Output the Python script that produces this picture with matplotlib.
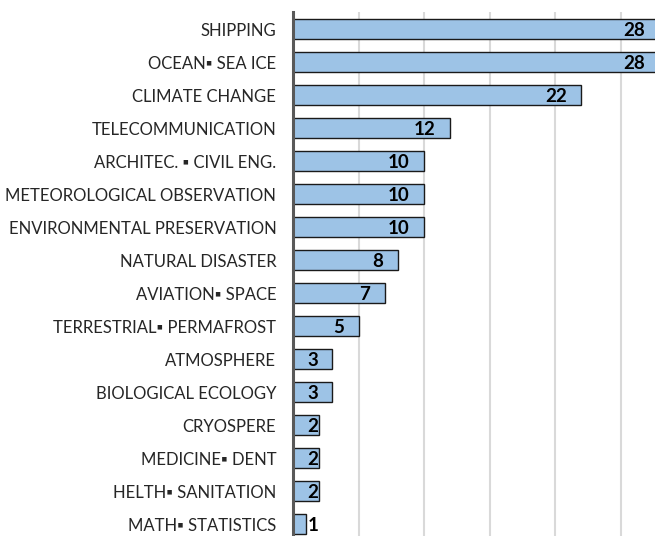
import numpy as np
import matplotlib.pyplot as plt

categories = [
    "SHIPPING", "OCEAN\u25aa SEA ICE", "CLIMATE CHANGE", "TELECOMMUNICATION",
    "ARCHITEC. \u25aa CIVIL ENG.", "METEOROLOGICAL OBSERVATION",
    "ENVIRONMENTAL PRESERVATION", "NATURAL DISASTER", "AVIATION\u25aa SPACE",
    "TERRESTRIAL\u25aa PERMAFROST", "ATMOSPHERE", "BIOLOGICAL ECOLOGY",
    "CRYOSPERE", "MEDICINE\u25aa DENT", "HELTH\u25aa SANITATION", "MATH\u25aa STATISTICS",
]
counts = [28, 28, 22, 12, 10, 10, 10, 8, 7, 5, 3, 3, 2, 2, 2, 1]

plt.rcParams['font.family'] = ['Lato', 'DejaVu Sans']

W, H = 655, 536
fig = plt.figure(figsize=(W / 100, H / 100), dpi=100)

# axes: x=0 at 293 px, 13.1 px per unit; bar rows 33 px apart
px_unit = 13.1
xmax = 30
left = 293 / W
width = xmax * px_unit / W
ylo, yhi = -0.52, 15.5
top_px = 12
height_px = (yhi - ylo) * 33
bottom = (H - top_px - height_px) / H
ax = fig.add_axes([left, bottom, width, height_px / H])

y = np.arange(len(categories))
ax.barh(y, counts, height=0.62, color="#9dc3e6", edgecolor="#1a1a1a",
        linewidth=1.0, zorder=3)

ax.set_xlim(0, xmax)
ax.set_ylim(yhi, ylo)
ax.set_xticks([5, 10, 15, 20, 25, 30])
ax.xaxis.grid(True, color="#d9d9d9", linewidth=1.5, zorder=0)
ax.tick_params(axis="x", length=0, labelbottom=False)
ax.tick_params(axis="y", length=0, pad=12)
ax.set_yticks(y)
ax.set_yticklabels(categories, fontsize=12, color="#262626")

for s in ["top", "right", "bottom"]:
    ax.spines[s].set_visible(False)
ax.spines["left"].set_color("#595959")
ax.spines["left"].set_linewidth(2.2)
ax.spines["left"].set_zorder(5)

for yi, v in zip(y, counts):
    if v <= 1:
        ax.text(v + 0.1, yi + 0.05, str(v), ha="left", va="center",
                fontsize=13.5, fontweight="bold", color="black", zorder=6)
    else:
        ax.text(max(v - 1.1, 1.9), yi + 0.05, str(v), ha="right", va="center",
                fontsize=13.5, fontweight="bold", color="black", zorder=6)

fig.savefig("out.png", dpi=100)
